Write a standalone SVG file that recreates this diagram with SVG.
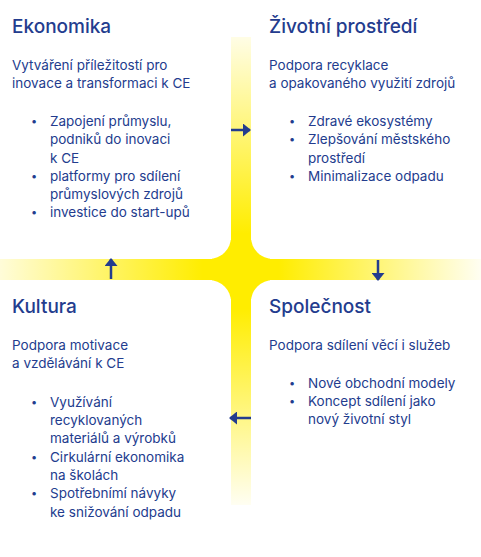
<svg xmlns="http://www.w3.org/2000/svg" width="481" height="557" viewBox="0 0 481 557">
<defs>
<linearGradient id="hg" x1="0" y1="0" x2="481" y2="0" gradientUnits="userSpaceOnUse">
<stop offset="0" stop-color="#FFED00" stop-opacity="0.15"/>
<stop offset="0.42" stop-color="#FFED00" stop-opacity="1"/>
<stop offset="0.58" stop-color="#FFED00" stop-opacity="1"/>
<stop offset="1" stop-color="#FFED00" stop-opacity="0.05"/>
</linearGradient>
<linearGradient id="vg" x1="0" y1="37" x2="0" y2="505" gradientUnits="userSpaceOnUse">
<stop offset="0" stop-color="#FFED00" stop-opacity="0.1"/>
<stop offset="0.42" stop-color="#FFED00" stop-opacity="1"/>
<stop offset="0.58" stop-color="#FFED00" stop-opacity="1"/>
<stop offset="1" stop-color="#FFED00" stop-opacity="0.05"/>
</linearGradient>
<marker id="ah" markerUnits="userSpaceOnUse" markerWidth="8" markerHeight="13" refX="7" refY="6.5" orient="auto">
<path d="M0,0 L8,6.5 L0,13 z" fill="#233C8E"/>
</marker>
<style>
text{font-family:Inter,"Noto Sans","Liberation Sans",sans-serif;fill:#233C8E}
.h{font-size:19px;font-weight:500}
.t{font-size:13.5px}
.b{font-size:11px}
.conn{stroke:#233C8E;stroke-width:2.5;fill:none;marker-end:url(#ah)}
.q{fill:#fff}
</style>
</defs>
<rect width="481" height="557" fill="#fff"/>
<g id="cross">
<rect x="0" y="259" width="481" height="21" fill="url(#hg)"/>
<rect x="231" y="37" width="20" height="468" fill="url(#vg)"/>
<rect x="212" y="240" width="58" height="59" fill="#FFED00"/>
<rect class="q" x="-30" y="-30" width="261" height="289" rx="22"/>
<rect class="q" x="251" y="-30" width="260" height="289" rx="22"/>
<rect class="q" x="-30" y="280" width="261" height="307" rx="22"/>
<rect class="q" x="251" y="280" width="260" height="307" rx="22"/>
</g>
<g id="connectors">
<line class="conn" x1="231" y1="130" x2="250" y2="130"/>
<line class="conn" x1="111" y1="279" x2="111" y2="259"/>
<line class="conn" x1="378" y1="260" x2="378" y2="280"/>
<line class="conn" x1="251" y1="418" x2="230" y2="418"/>
</g>
<g id="ekonomika">
<text class="h" x="12" y="33">Ekonomika</text>
<text class="t" x="12" y="70">Vytváření příležitostí pro</text>
<text class="t" x="12" y="88">inovace a transformaci k CE</text>
<text class="b" x="31" y="125">•</text>
<text class="t" x="50" y="126">Zapojení průmyslu,</text>
<text class="t" x="50" y="144">podniků do inovaci</text>
<text class="t" x="50" y="163">k CE</text>
<text class="b" x="31" y="180">•</text>
<text class="t" x="50" y="181">platformy pro sdílení</text>
<text class="t" x="50" y="199">průmyslových zdrojů</text>
<text class="b" x="31" y="216">•</text>
<text class="t" x="50" y="217">investice do start-upů</text>
</g>
<g id="zivotni">
<text class="h" x="269" y="33">Životní prostředí</text>
<text class="t" x="269" y="70">Podpora recyklace</text>
<text class="t" x="269" y="88">a opakovaného využití zdrojů</text>
<text class="b" x="289" y="125">•</text>
<text class="t" x="308" y="126">Zdravé ekosystémy</text>
<text class="b" x="289" y="143">•</text>
<text class="t" x="308" y="144">Zlepšování městského</text>
<text class="t" x="308" y="163">prostředí</text>
<text class="b" x="289" y="180">•</text>
<text class="t" x="308" y="181">Minimalizace odpadu</text>
</g>
<g id="kultura">
<text class="h" x="12" y="313">Kultura</text>
<text class="t" x="12" y="350">Podpora motivace</text>
<text class="t" x="12" y="368">a vzdělávání k CE</text>
<text class="b" x="31" y="406">•</text>
<text class="t" x="50" y="407">Využívání</text>
<text class="t" x="50" y="425">recyklovaných</text>
<text class="t" x="50" y="443">materiálů a výrobků</text>
<text class="b" x="31" y="461">•</text>
<text class="t" x="50" y="462">Cirkulární ekonomika</text>
<text class="t" x="50" y="480">na školách</text>
<text class="b" x="31" y="497">•</text>
<text class="t" x="50" y="498">Spotřebnímí návyky</text>
<text class="t" x="50" y="517">ke snižování odpadu</text>
</g>
<g id="spolecnost">
<text class="h" x="269" y="313">Společnost</text>
<text class="t" x="269" y="350">Podpora sdílení věcí i služeb</text>
<text class="b" x="289" y="387">•</text>
<text class="t" x="308" y="388">Nové obchodní modely</text>
<text class="b" x="289" y="405">•</text>
<text class="t" x="308" y="406">Koncept sdílení jako</text>
<text class="t" x="308" y="424">nový životní styl</text>
</g>
</svg>
